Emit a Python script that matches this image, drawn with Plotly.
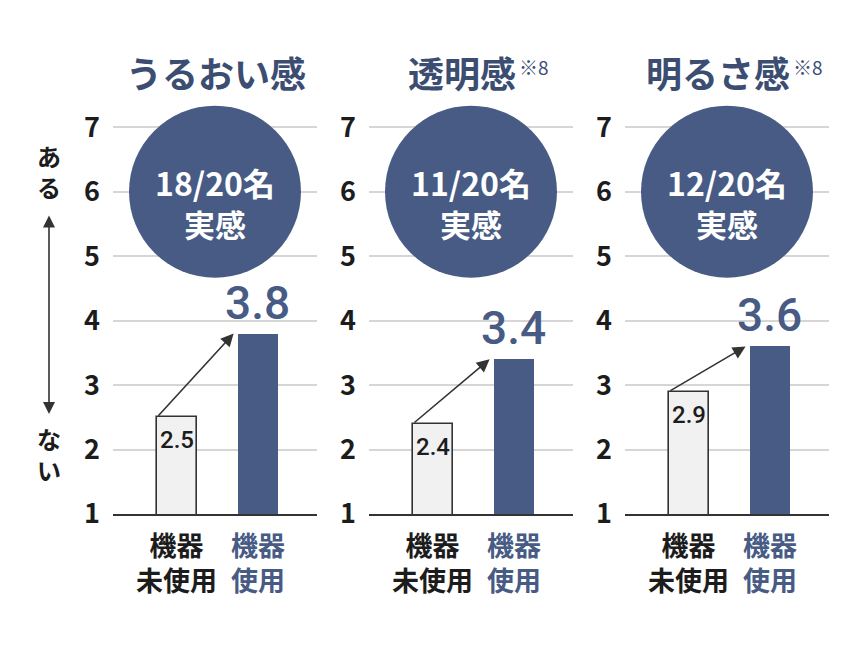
import plotly.graph_objects as go

# data
panel_titles = ["うるおい感", "透明感", "明るさ感"]
title_notes = ["", "※8", "※8"]
agree_counts = ["18/20名", "11/20名", "12/20名"]
circle_caption = "実感"
bar_names = ["機器未使用", "機器使用"]
bar_labels = ["機器<br>未使用", "機器<br>使用"]
before_values = [2.5, 2.4, 2.9]
after_values = [3.8, 3.4, 3.6]
y_ticks = [1, 2, 3, 4, 5, 6, 7]
axis_top_word = "あ<br>る"
axis_bottom_word = "な<br>い"

NAVY = "#475b84"
TITLE_NAVY = "#3c4d72"
INK = "#1c1c1c"
FONT = "Noto Sans CJK JP"
NUM_FONT = "Roboto"

W, H = 864, 648
PAGE_PAD = 8  # the page body margin shifts the figure by this much
PLOT_TOP, PLOT_BOTTOM = 95, 514  # where the plot area sits in the window
M_TOP = PLOT_TOP - PAGE_PAD
M_BOT = H - (PLOT_BOTTOM - PAGE_PAD)
PLOT_H = PLOT_BOTTOM - PLOT_TOP


def px_x(px):
    return (px - PAGE_PAD) / W


def px_y(py):
    return (PLOT_BOTTOM - py) / PLOT_H


fig = go.Figure()
annotations = []
shapes = []

for i, title in enumerate(panel_titles):
    left = 113 + 256 * i
    right = left + 204
    center = (left + right) / 2
    sfx = "" if i == 0 else str(i + 1)
    xa, ya = "x" + sfx, "y" + sfx

    fig.add_trace(go.Bar(
        x=bar_names, y=[before_values[i], after_values[i]],
        width=0.494,
        marker=dict(color=["#f1f1f1", NAVY],
                    line=dict(color=["#333333", NAVY], width=[1.6, 0])),
        xaxis=xa, yaxis=ya, showlegend=False, hoverinfo="skip",
    ))

    fig.update_layout({
        "xaxis" + sfx: dict(domain=[px_x(left), px_x(right)], range=[-0.79, 1.73],
                            showticklabels=False, showgrid=False, zeroline=False,
                            showline=True, linecolor="#333333", linewidth=2,
                            anchor=ya, fixedrange=True),
        "yaxis" + sfx: dict(domain=[0, 1], range=[1, 7.5], tickvals=y_ticks,
                            showgrid=True, gridcolor="#d6d6d6", gridwidth=1.5,
                            zeroline=False, anchor=xa, ticklabelstandoff=12,
                            tickfont=dict(family=FONT, size=27, color=INK, weight="bold")),
    })

    # circle badge
    shapes.append(dict(type="circle", xref=xa, yref=ya, xsizemode="pixel", ysizemode="pixel",
                       xanchor=0.47, yanchor=6, x0=-86, x1=86, y0=-86, y1=86,
                       fillcolor=NAVY, line=dict(width=0), layer="above"))
    annotations.append(dict(xref=xa, yref=ya, x=0.47, y=6, yshift=10, text=agree_counts[i],
                            showarrow=False, font=dict(family=FONT, size=32, color="white", weight="bold")))
    annotations.append(dict(xref=xa, yref=ya, x=0.47, y=6, yshift=-32, text=circle_caption,
                            showarrow=False, font=dict(family=FONT, size=31, color="white", weight="bold")))

    # titles
    tx = center - 9 if title_notes[i] else center + 1
    annotations.append(dict(xref="paper", yref="paper", x=px_x(tx), y=px_y(72), text=title,
                            showarrow=False, xanchor="center", yanchor="middle",
                            font=dict(family=FONT, size=36, color=TITLE_NAVY, weight="bold")))
    if title_notes[i]:
        half = len(title) * 36 / 2
        annotations.append(dict(xref="paper", yref="paper", x=px_x(tx + half + 1), y=px_y(66),
                                text=title_notes[i], showarrow=False, xanchor="left", yanchor="middle",
                                font=dict(family=FONT, size=19, color=TITLE_NAVY)))

    # value labels
    annotations.append(dict(xref=xa, yref=ya, x=1, y=after_values[i], yshift=31,
                            text=f"{after_values[i]:.1f}", showarrow=False, yanchor="middle",
                            font=dict(family=NUM_FONT, size=46, color=NAVY, weight=500)))
    annotations.append(dict(xref=xa, yref=ya, x=0, y=before_values[i], yshift=-23,
                            text=f"{before_values[i]:.1f}", showarrow=False, yanchor="middle",
                            font=dict(family=NUM_FONT, size=24, color=INK, weight=500)))

    # rising arrow between bars
    annotations.append(dict(xref=xa, yref=ya, axref=xa, ayref=ya,
                            x=0.70, y=after_values[i], ax=-0.247, ay=before_values[i],
                            text="", showarrow=True, arrowhead=2, arrowsize=1.6,
                            arrowwidth=1.6, arrowcolor="#333333", standoff=0))

    # category labels under bars
    for j, label in enumerate(bar_labels):
        color = INK if j == 0 else NAVY
        annotations.append(dict(xref=xa, yref="paper", x=j, y=px_y(562), text=label,
                                showarrow=False, xanchor="center", yanchor="middle",
                                font=dict(family=FONT, size=27, color=color, weight="bold")))

# left scale words and double arrow
annotations.append(dict(xref="paper", yref="paper", x=px_x(49), y=px_y(171), text=axis_top_word,
                        showarrow=False, xanchor="center", yanchor="middle",
                        font=dict(family=FONT, size=24, color=INK, weight="bold")))
annotations.append(dict(xref="paper", yref="paper", x=px_x(49), y=px_y(454), text=axis_bottom_word,
                        showarrow=False, xanchor="center", yanchor="middle",
                        font=dict(family=FONT, size=24, color=INK, weight="bold")))
annotations.append(dict(xref="paper", yref="paper", x=px_x(49), y=px_y(414), ax=0, ay=-200,
                        text="", showarrow=True, arrowhead=2, startarrowhead=2, arrowside="end+start",
                        arrowsize=1.5, arrowwidth=1.6, arrowcolor="#333333", standoff=0, startstandoff=0))

fig.update_layout(
    width=W, height=H,
    margin=dict(l=0, r=0, t=M_TOP, b=M_BOT),
    paper_bgcolor="white", plot_bgcolor="white",
    bargap=0, annotations=annotations, shapes=shapes,
    font=dict(family=FONT),
)

fig.write_html("out.html")
